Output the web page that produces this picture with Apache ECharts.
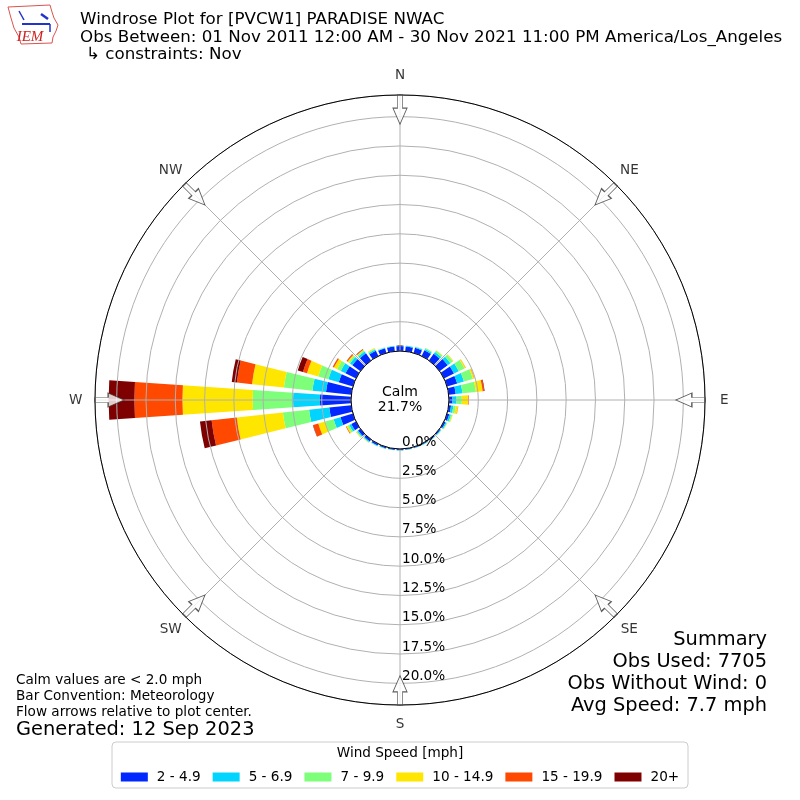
<!DOCTYPE html>
<html>
<head>
<meta charset="utf-8">
<title>Windrose PVCW1</title>
<script src="https://cdn.jsdelivr.net/npm/echarts@6/dist/echarts.min.js"></script>
<style>
  html, body { margin: 0; padding: 0; background: #fff; }
  #chart { width: 800px; height: 800px; }
</style>
</head>
<body>
<div id="chart"></div>
<script>
// direction bins (degrees, meteorological convention)
const directions = [0, 10, 20, 30, 40, 50, 60, 70, 80, 90, 100, 110,
  120, 130, 140, 150, 160, 170, 180, 190, 200, 210, 220, 230,
  240, 250, 260, 270, 280, 290, 300, 310, 320, 330, 340, 350];

const speedBins = ["2 - 4.9", "5 - 6.9", "7 - 9.9", "10 - 14.9", "15 - 19.9", "20+"];

// frequency (%) per direction, one array per speed bin
const speed2to5 = [0.42, 0.42, 0.45, 0.55, 0.70, 0.85, 0.95, 0.90, 0.60, 0.30, 0.20, 0.20,
  0.15, 0.10, 0.10, 0.08, 0.08, 0.08, 0.10, 0.10, 0.12, 0.15, 0.20, 0.25,
  0.45, 1.11, 1.89, 2.65, 2.17, 1.26, 1.00, 0.85, 0.75, 0.50, 0.42, 0.40];
const speed5to7 = [0.05, 0.05, 0.08, 0.12, 0.20, 0.30, 0.45, 0.60, 0.58, 0.35, 0.20, 0.15,
  0.10, 0.06, 0.04, 0.04, 0.03, 0.03, 0.03, 0.03, 0.05, 0.06, 0.08, 0.10,
  0.20, 0.61, 1.73, 2.30, 1.16, 0.92, 0.45, 0.25, 0.20, 0.12, 0.05, 0.05];
const speed7to10 = [0.02, 0.02, 0.04, 0.08, 0.15, 0.25, 0.55, 0.80, 1.15, 0.45, 0.20, 0.10,
  0.05, 0.03, 0.02, 0.02, 0.01, 0.01, 0.01, 0.01, 0.02, 0.03, 0.05, 0.07,
  0.15, 0.75, 2.25, 3.44, 2.45, 0.90, 0.35, 0.15, 0.12, 0.08, 0.03, 0.02];
const speed10to15 = [0, 0, 0, 0.01, 0.03, 0.05, 0.10, 0.12, 0.58, 0.55, 0.20, 0.05,
  0.02, 0, 0, 0, 0, 0, 0, 0, 0, 0, 0.02, 0.04,
  0.12, 0.61, 3.96, 6.00, 2.74, 1.00, 0.30, 0.12, 0.06, 0.05, 0.01, 0];
const speed15to20 = [0, 0, 0, 0, 0, 0.01, 0.02, 0.03, 0.13, 0.05, 0.02, 0,
  0, 0, 0, 0, 0, 0, 0, 0, 0, 0, 0, 0.01,
  0.05, 0.45, 2.16, 4.10, 1.30, 0.36, 0.10, 0.08, 0.05, 0.01, 0, 0];
const speed20plus = [0, 0, 0, 0, 0, 0, 0, 0, 0.04, 0, 0, 0,
  0, 0, 0, 0, 0, 0, 0, 0, 0, 0, 0, 0,
  0, 0.03, 1.00, 2.20, 0.44, 0.46, 0.02, 0.02, 0.03, 0, 0, 0];

const binData = [speed2to5, speed5to7, speed7to10, speed10to15, speed15to20, speed20plus];

// radial axis ticks (%)
const radialMax = 21.85;
const radialStep = 2.5;

const compassNames = ["N", "NE", "E", "SE", "S", "SW", "W", "NW"];
const arrowDirs = [0, 45, 90, 135, 180, 225, 270, 315];

const summaryLines = ["Summary", "Obs Used: 7705", "Obs Without Wind: 0", "Avg Speed: 7.7 mph"];
const noteLines = ["Calm values are < 2.0 mph", "Bar Convention: Meteorology", "Flow arrows relative to plot center."];

const FONT = "DejaVu Sans";
const barColors = ["#0028ff", "#00d4ff", "#7dff7a", "#ffe600", "#ff4800", "#7f0000"];

let myChart = echarts.init(document.getElementById("chart"));

function txt(x, y, text, size, align, extra) {
  return Object.assign({
    type: "text", x: x, y: y, z: 20,
    style: {
      text: text, fontSize: size, fontFamily: FONT, fill: "#000",
      align: align || "left", verticalAlign: "middle"
    }
  }, extra || {});
}

let graphics = [
  txt(80, 20, "Windrose Plot for [PVCW1] PARADISE NWAC", 16.7),
  txt(80, 38, "Obs Between: 01 Nov 2011 12:00 AM - 30 Nov 2021 11:00 PM America/Los_Angeles", 16.7),
  txt(86, 55, "\u21b3 constraints: Nov", 16.7),
  txt(400, 392, "Calm", 14, "center"),
  txt(400, 407, "21.7%", 14, "center"),
  txt(16, 730, "Generated: 12 Sep 2023", 19.4),
  // legend frame + title
  {
    type: "rect", z: 1,
    shape: { x: 112, y: 742, width: 576, height: 46, r: 4 },
    style: { fill: "#fff", stroke: "#cccccc", lineWidth: 1 }
  },
  txt(400, 753, "Wind Speed [mph]", 13.6, "center"),
  // IEM logo (rough)
  {
    type: "polygon", z: 20,
    shape: { points: [[8, 7], [50, 5], [52, 12], [54, 18], [58, 25], [56, 31], [53, 37], [52, 43], [21, 44], [19, 37], [14, 28], [11, 18]] },
    style: { fill: "none", stroke: "#d9534f", lineWidth: 1 }
  },
  { type: "line", z: 20, shape: { x1: 22, y1: 24, x2: 50, y2: 24 }, style: { stroke: "#2233cc", lineWidth: 2 } },
  { type: "line", z: 20, shape: { x1: 19, y1: 11, x2: 24, y2: 20 }, style: { stroke: "#2233cc", lineWidth: 1.5 } },
  { type: "line", z: 20, shape: { x1: 41, y1: 14, x2: 48, y2: 19 }, style: { stroke: "#2233cc", lineWidth: 2.5 } },
  { type: "line", z: 20, shape: { x1: 50, y1: 24, x2: 50, y2: 32 }, style: { stroke: "#2233cc", lineWidth: 1.5 } },
  {
    type: "text", x: 30, y: 37, z: 20,
    style: { text: "IEM", fontSize: 15, fontFamily: "Liberation Serif", fontStyle: "italic", fill: "#cc2222", align: "center", verticalAlign: "middle" }
  }
];
summaryLines.forEach(function (s, i) {
  graphics.push(txt(767, 640 + i * 22, s, 19.4, "right"));
});
noteLines.forEach(function (s, i) {
  graphics.push(txt(16, 680 + i * 16, s, 13.6));
});

let barSeries = speedBins.map(function (name, i) {
  return {
    name: name,
    type: "bar",
    coordinateSystem: "polar",
    polarIndex: 0,
    stack: "speed",
    barCategoryGap: "22%",
    itemStyle: { color: barColors[i] },
    data: binData[i],
    z: 2
  };
});

let option = {
  animation: false,
  color: barColors,
  polar: [
    { center: [400, 400], radius: [49, 305] },
    { center: [400, 400], radius: [49, 305] }
  ],
  angleAxis: [
    {
      // bars: 36 bins, first bin (N) centred at the top
      polarIndex: 0,
      type: "category",
      data: directions,
      startAngle: 95,
      clockwise: true,
      axisLine: { show: false },
      axisTick: { show: false },
      axisLabel: { show: false },
      splitLine: { show: false }
    },
    {
      // grid; 0 at south so the radial labels sit on the S spoke
      polarIndex: 1,
      type: "value",
      min: 0,
      max: 360,
      interval: 45,
      startAngle: 270,
      clockwise: true,
      z: 5,
      axisLine: { lineStyle: { color: "#000", width: 1 } },
      axisTick: { show: false },
      axisLabel: { show: false },
      splitLine: { lineStyle: { color: "#b0b0b0", width: 1 } }
    }
  ],
  radiusAxis: [
    {
      polarIndex: 0,
      min: 0,
      max: radialMax,
      axisLine: { show: false },
      axisTick: { show: false },
      axisLabel: { show: false },
      splitLine: { show: false }
    },
    {
      polarIndex: 1,
      min: 0,
      max: radialMax,
      interval: radialStep,
      z: 5,
      axisLine: { show: false },
      axisTick: { show: false },
      axisLabel: {
        showMaxLabel: false,
        fontSize: 13.6,
        fontFamily: FONT,
        color: "#000",
        margin: 2,
        align: "left",
        verticalAlign: "bottom",
        formatter: function (v) { return v.toFixed(1) + "%"; }
      },
      splitLine: { lineStyle: { color: "#b0b0b0", width: 1 } }
    }
  ],
  legend: {
    data: speedBins,
    left: "center",
    top: 765,
    icon: "rect",
    itemWidth: 27,
    itemHeight: 9,
    itemGap: 12,
    selectedMode: false,
    z: 10,
    textStyle: { fontSize: 13.6, fontFamily: FONT, color: "#000", padding: [0, 0, 0, 4] }
  },
  graphic: graphics,
  series: barSeries.concat([
    {
      // flow arrows at the compass points, pointing at the centre
      type: "scatter",
      coordinateSystem: "polar",
      polarIndex: 1,
      symbol: "path://M7,0L14,16L9.5,16L9.5,29L4.5,29L4.5,16L0,16Z",
      symbolSize: [14, 29],
      z: 8,
      silent: true,
      itemStyle: { color: "#fff", borderColor: "#333", borderWidth: 1 },
      data: arrowDirs.map(function (d) {
        return { value: [20.6, (d + 180) % 360], symbolRotate: -(d + 180) };
      })
    },
    {
      // compass labels, centred just outside the outer ring
      type: "scatter",
      coordinateSystem: "polar",
      polarIndex: 1,
      symbol: "circle",
      symbolSize: 1,
      clip: false,
      silent: true,
      z: 8,
      itemStyle: { color: "rgba(0,0,0,0)" },
      label: {
        show: true,
        position: "inside",
        fontSize: 13.6,
        fontFamily: FONT,
        color: "#000",
        formatter: function (p) { return p.data.name; }
      },
      data: arrowDirs.map(function (d, i) {
        return { name: compassNames[i], value: [23.5, (d + 180) % 360] };
      })
    }
  ])
};

myChart.setOption(option);
window.addEventListener("resize", function () {
  myChart.resize();
});
</script>
</body>
</html>
